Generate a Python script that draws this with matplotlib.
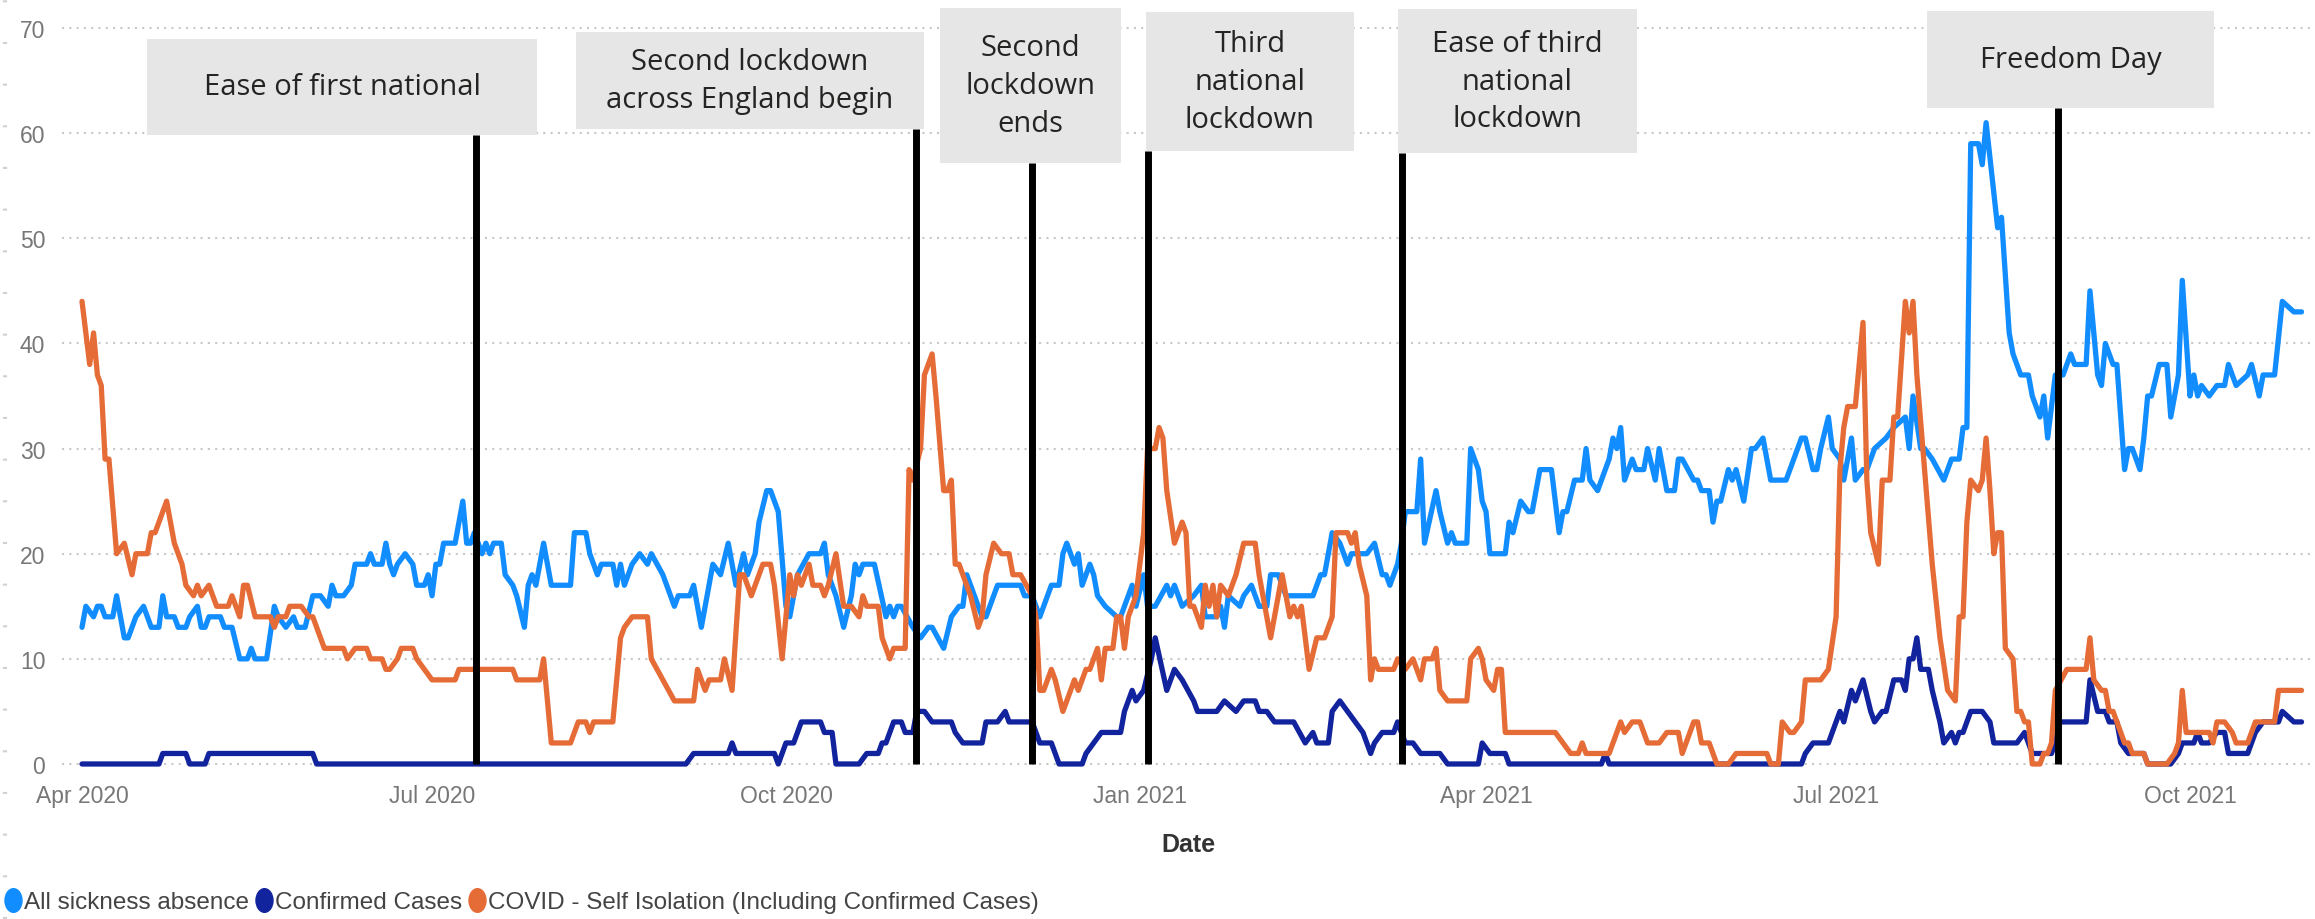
import numpy as np
import pandas as pd
import matplotlib
matplotlib.use("Agg")
import matplotlib.pyplot as plt
import matplotlib.dates as mdates
from matplotlib.lines import Line2D
from matplotlib.patches import Rectangle
from matplotlib.path import Path
from matplotlib.transforms import Affine2D

plt.rcParams['font.family'] = ['Liberation Sans', 'DejaVu Sans']

#
# Data (days counted from 1 Apr 2020)
#
start = pd.Timestamp('2020-04-01')

absence_days = [0, 1, 3, 4, 5, 6, 8, 9, 11, 12, 14, 16, 18, 20, 21, 22, 24, 25, 27, 28,
                30, 31, 32, 33, 36, 37, 39, 41, 43, 44, 45, 48, 50, 51, 53, 55, 56, 58, 60, 62,
                64, 65, 66, 68, 70, 71, 74, 75, 76, 78, 79, 80, 81, 82, 84, 86, 87, 89, 90, 91,
                92, 93, 94, 97, 99, 100, 101, 102, 104, 105, 106, 107, 109, 110, 112, 113, 115, 116, 117, 118,
                120, 122, 127, 128, 131, 132, 134, 135, 138, 139, 140, 141, 143, 145, 147, 148, 151, 152, 154, 155,
                158, 159, 161, 162, 163, 164, 166, 168, 170, 172, 173, 175, 176, 178, 179, 181, 183, 184, 186, 189,
                192, 193, 194, 196, 198, 200, 201, 202, 203, 206, 209, 210, 211, 212, 213, 216, 218, 220, 221, 224,
                226, 228, 229, 230, 231, 234, 235, 238, 244, 245, 247, 249, 251, 252, 254, 255, 256, 258, 259, 260,
                262, 263, 264, 266, 269, 270, 273, 274, 276, 277, 279, 282, 283, 284, 286, 289, 291, 292, 295, 296,
                297, 298, 301, 302, 304, 306, 308, 309, 311, 313, 320, 322, 323, 325, 327, 329, 330, 334, 336, 338,
                339, 340, 342, 343, 344, 347, 348, 349, 352, 353, 355, 356, 357, 360, 361, 363, 364, 365, 366, 370,
                371, 372, 374, 376, 377, 379, 382, 384, 385, 386, 388, 390, 391, 392, 394, 397, 398, 399, 400, 401,
                403, 404, 406, 407, 409, 410, 412, 414, 415, 416, 419, 420, 421, 423, 424, 425, 426, 428, 429, 430,
                432, 434, 435, 437, 439, 440, 443, 445, 447, 448, 450, 451, 452, 454, 455, 457, 458, 460, 461, 463,
                464, 466, 469, 471, 474, 475, 476, 478, 479, 481, 484, 486, 488, 489, 490, 491, 493, 494, 495, 498,
                499, 501, 502, 504, 506, 507, 509, 510, 511, 513, 515, 517, 518, 521, 522, 524, 525, 526, 528, 529,
                531, 532, 533, 535, 536, 537, 538, 540, 542, 543, 545, 546, 548, 549, 550, 551, 553, 555, 557, 558,
                560, 563, 564, 566, 567, 570, 572, 575, 577]
absence_vals = [13, 15, 14, 15, 15, 14, 14, 16, 12, 12, 14, 15, 13, 13, 16, 14, 14, 13, 13, 14,
                15, 13, 13, 14, 14, 13, 13, 10, 10, 11, 10, 10, 15, 14, 13, 14, 13, 13, 16, 16,
                15, 17, 16, 16, 17, 19, 19, 20, 19, 19, 21, 19, 18, 19, 20, 19, 17, 17, 18, 16,
                19, 19, 21, 21, 25, 21, 21, 22, 20, 21, 20, 21, 21, 18, 17, 16, 13, 17, 18, 17,
                21, 17, 17, 22, 22, 20, 18, 19, 19, 17, 19, 17, 19, 20, 19, 20, 18, 17, 15, 16,
                16, 17, 13, 15, 17, 19, 18, 21, 17, 20, 18, 20, 23, 26, 26, 24, 15, 14, 18, 20,
                20, 21, 18, 16, 13, 16, 19, 18, 19, 19, 14, 15, 14, 15, 15, 13, 12, 13, 13, 11,
                14, 15, 15, 18, 17, 14, 14, 17, 17, 16, 16, 14, 16, 17, 17, 20, 21, 19, 20, 17,
                19, 18, 16, 15, 14, 14, 17, 15, 18, 15, 15, 17, 16, 17, 15, 16, 17, 14, 14, 15,
                13, 16, 15, 16, 17, 15, 15, 18, 18, 16, 16, 18, 18, 22, 21, 19, 20, 20, 21, 18,
                18, 17, 19, 21, 24, 24, 29, 21, 26, 24, 21, 22, 21, 21, 30, 28, 25, 24, 20, 20,
                23, 22, 25, 24, 24, 28, 28, 22, 24, 24, 27, 27, 30, 27, 26, 29, 31, 30, 32, 27,
                29, 28, 28, 30, 27, 30, 26, 26, 29, 29, 27, 27, 26, 26, 23, 25, 25, 28, 27, 28,
                25, 30, 30, 31, 27, 27, 27, 29, 31, 31, 28, 28, 30, 33, 30, 29, 27, 31, 27, 28,
                28, 30, 31, 32, 33, 30, 35, 30, 30, 29, 27, 29, 29, 32, 32, 59, 59, 57, 61, 51,
                52, 41, 39, 37, 37, 35, 33, 35, 31, 37, 37, 39, 38, 38, 45, 37, 36, 40, 38, 38,
                28, 30, 30, 28, 31, 35, 35, 38, 38, 33, 37, 46, 35, 37, 35, 36, 35, 36, 36, 38,
                36, 37, 38, 35, 37, 37, 44, 43, 43]

confirmed_days = [0, 20, 21, 27, 28, 32, 33, 60, 61, 157, 159, 168, 169, 170, 180, 181, 183, 185, 187, 192,
                  193, 195, 196, 202, 204, 207, 208, 209, 211, 213, 214, 216, 217, 219, 221, 226, 227, 229, 234, 235,
                  238, 240, 241, 247, 249, 252, 254, 260, 261, 263, 265, 270, 271, 273, 274, 276, 278, 279, 282, 283,
                  284, 286, 289, 290, 295, 297, 300, 302, 305, 306, 308, 310, 315, 318, 320, 321, 324, 325, 327, 329,
                  331, 333, 335, 336, 338, 341, 342, 344, 346, 348, 353, 355, 363, 364, 366, 370, 371, 395, 396, 397,
                  447, 448, 450, 454, 456, 457, 458, 460, 461, 463, 465, 466, 468, 469, 471, 473, 474, 475, 476, 477,
                  478, 480, 481, 483, 484, 486, 487, 488, 489, 491, 494, 496, 497, 503, 505, 506, 507, 512, 513, 514,
                  521, 522, 524, 526, 527, 529, 530, 532, 536, 537, 543, 545, 546, 549, 550, 551, 553, 555, 557, 558,
                  563, 565, 567, 571, 572, 575, 577]
confirmed_vals = [0, 0, 1, 1, 0, 0, 1, 1, 0, 0, 1, 1, 2, 1, 1, 0, 2, 2, 4, 4,
                  3, 3, 0, 0, 1, 1, 2, 2, 4, 4, 3, 3, 5, 5, 4, 4, 3, 2, 2, 4,
                  4, 5, 4, 4, 2, 2, 0, 0, 1, 2, 3, 3, 5, 7, 6, 7, 10, 12, 7, 8,
                  9, 8, 6, 5, 5, 6, 5, 6, 6, 5, 5, 4, 4, 2, 3, 2, 2, 5, 6, 5,
                  4, 3, 1, 2, 3, 3, 4, 2, 2, 1, 1, 0, 0, 2, 1, 1, 0, 0, 1, 0,
                  0, 1, 2, 2, 4, 5, 4, 7, 6, 8, 5, 4, 5, 5, 8, 8, 7, 10, 10, 12,
                  9, 9, 7, 4, 2, 3, 2, 3, 3, 5, 5, 4, 2, 2, 3, 2, 1, 1, 2, 4,
                  4, 8, 5, 5, 4, 4, 2, 1, 1, 0, 0, 1, 2, 2, 3, 2, 2, 3, 3, 1,
                  1, 3, 4, 4, 5, 4, 4]

isolation_days = [0, 2, 3, 4, 5, 6, 7, 9, 11, 13, 14, 17, 18, 19, 22, 24, 26, 27, 29, 30,
                  31, 33, 35, 38, 39, 41, 42, 43, 45, 49, 50, 51, 53, 54, 57, 59, 60, 63, 68, 69,
                  71, 74, 75, 78, 79, 80, 82, 83, 86, 87, 89, 91, 97, 98, 112, 113, 119, 120, 122, 127,
                  129, 131, 132, 133, 138, 140, 141, 143, 147, 148, 151, 154, 159, 160, 162, 163, 166, 167, 169, 171,
                  172, 174, 177, 179, 180, 182, 184, 185, 186, 187, 189, 190, 192, 193, 194, 196, 198, 200, 202, 203,
                  204, 207, 208, 210, 211, 214, 215, 216, 218, 219, 221, 222, 224, 225, 226, 227, 228, 229, 231, 233,
                  234, 235, 237, 239, 241, 242, 244, 247, 248, 249, 250, 252, 253, 255, 256, 258, 259, 261, 262, 264,
                  265, 266, 268, 269, 270, 271, 272, 273, 274, 276, 277, 279, 280, 281, 282, 284, 286, 287, 288, 289,
                  291, 292, 293, 294, 295, 296, 298, 299, 300, 302, 305, 306, 308, 309, 311, 312, 314, 315, 316, 317,
                  319, 321, 323, 325, 326, 329, 330, 331, 332, 334, 335, 336, 337, 341, 342, 344, 346, 348, 349, 351,
                  352, 353, 355, 360, 361, 363, 364, 365, 367, 368, 369, 370, 383, 385, 387, 389, 390, 391, 397, 398,
                  400, 401, 403, 405, 407, 410, 412, 415, 416, 417, 419, 420, 421, 423, 425, 428, 430, 438, 439, 441,
                  442, 444, 445, 447, 448, 452, 454, 456, 457, 458, 459, 461, 463, 464, 465, 467, 468, 470, 471, 472,
                  474, 475, 476, 477, 479, 481, 483, 485, 487, 488, 489, 490, 491, 493, 494, 495, 496, 497, 498, 499,
                  500, 502, 503, 504, 505, 506, 507, 509, 510, 511, 512, 513, 516, 521, 522, 523, 525, 526, 527, 528,
                  529, 531, 532, 533, 536, 537, 542, 544, 545, 546, 547, 553, 554, 555, 557, 559, 560, 563, 565, 570,
                  571, 577]
isolation_vals = [44, 38, 41, 37, 36, 29, 29, 20, 21, 18, 20, 20, 22, 22, 25, 21, 19, 17, 16, 17,
                  16, 17, 15, 15, 16, 14, 17, 17, 14, 14, 13, 14, 14, 15, 15, 14, 14, 11, 11, 10,
                  11, 11, 10, 10, 9, 9, 10, 11, 11, 10, 9, 8, 8, 9, 9, 8, 8, 10, 2, 2,
                  4, 4, 3, 4, 4, 12, 13, 14, 14, 10, 8, 6, 6, 9, 7, 8, 8, 10, 7, 18,
                  18, 16, 19, 19, 17, 10, 18, 16, 18, 17, 19, 17, 17, 16, 17, 20, 15, 15, 14, 16,
                  15, 15, 12, 10, 11, 11, 28, 27, 30, 37, 39, 35, 26, 26, 27, 19, 19, 18, 16, 13,
                  14, 18, 21, 20, 20, 18, 18, 16, 14, 7, 7, 9, 8, 5, 6, 8, 7, 9, 9, 11,
                  8, 11, 11, 14, 14, 11, 14, 15, 16, 22, 30, 30, 32, 31, 26, 21, 23, 22, 15, 15,
                  13, 17, 15, 17, 14, 17, 16, 17, 18, 21, 21, 18, 14, 12, 16, 18, 14, 15, 14, 15,
                  9, 12, 12, 14, 22, 22, 21, 22, 19, 16, 8, 10, 9, 9, 10, 9, 10, 8, 10, 10,
                  11, 7, 6, 6, 10, 11, 10, 8, 7, 9, 9, 3, 3, 2, 1, 1, 2, 1, 1, 2,
                  4, 3, 4, 4, 2, 2, 3, 3, 1, 2, 4, 4, 2, 2, 0, 0, 1, 1, 0, 0,
                  4, 3, 3, 4, 8, 8, 9, 14, 28, 32, 34, 34, 42, 27, 22, 19, 27, 27, 33, 33,
                  44, 41, 44, 37, 28, 19, 12, 7, 6, 14, 14, 23, 27, 26, 27, 31, 26, 20, 22, 22,
                  11, 10, 5, 5, 4, 4, 0, 0, 1, 1, 2, 7, 9, 9, 12, 8, 7, 7, 5, 5,
                  4, 2, 2, 1, 1, 0, 0, 1, 2, 7, 3, 3, 2, 4, 4, 3, 2, 2, 4, 4,
                  7, 7]

series_names = ['All sickness absence', 'Confirmed Cases',
                'COVID - Self Isolation (Including Confirmed Cases)']

event_days = [102.3, 216.9, 247.0, 277.1, 343.1, 513.8]
event_labels = ['Ease of first national',
                'Second lockdown\nacross England begin',
                'Second\nlockdown\nends',
                'Third\nnational\nlockdown',
                'Ease of third\nnational\nlockdown',
                'Freedom Day']

#
# Style / layout
#
colores = ['#118DFF', '#12239E', '#E66C37']
# label boxes: (left day, right day, bottom value, top value)
box_geom = [(16.9, 118.4, 59.8, 69.0), (128.3, 219.0, 60.4, 69.6),
            (223.1, 270.1, 57.2, 71.9), (276.6, 330.6, 58.3, 71.5),
            (342.1, 404.2, 58.1, 71.8), (479.7, 554.3, 62.4, 71.6)]


def to_num(days):
    return mdates.date2num(start + pd.to_timedelta(np.asarray(days, float), unit='D'))


W, H = 2315, 920
fig = plt.figure(figsize=(W / 100, H / 100), dpi=100)
ax = fig.add_axes([62 / W, 1 - 775.5 / H, 1 - 62 / W, (775.5 - 18.5) / H])

series = [(absence_days, absence_vals), (confirmed_days, confirmed_vals),
          (isolation_days, isolation_vals)]
for n, (d, v) in enumerate(series):
    assert len(d) == len(v)
    ax.plot(to_num(d), v, color=colores[n], lw=3.8, solid_joinstyle='round',
            solid_capstyle='round', zorder=2 + n)

# events: black line + grey label box
for n, day in enumerate(event_days):
    x0, x1, y0, y1 = box_geom[n]
    ax.vlines(to_num([day]), 0, y0, color='black', lw=5, zorder=6)
    left, right = to_num([x0, x1])
    ax.add_patch(Rectangle((left, y0), right - left, y1 - y0, facecolor='#E6E6E6',
                           edgecolor='none', clip_on=False, zorder=7))
    ax.text((left + right) / 2, (y0 + y1) / 2, event_labels[n], ha='center', va='center',
            fontsize=21, color='#252423', linespacing=1.4, zorder=8,
            family=['Open Sans', 'DejaVu Sans'])

ax.set_xlim(to_num([-5.2, 580.5]))
ax.set_ylim(-1, 71)
ax.set_yticks(range(0, 71, 10))
ax.xaxis.set_major_locator(mdates.MonthLocator(bymonth=[1, 4, 7, 10]))
ax.xaxis.set_major_formatter(mdates.DateFormatter('%b %Y'))
ax.grid(axis='y', color='#C8C8C8', linestyle=(0, (1, 2.5)), lw=1.5)
ax.grid(axis='x', visible=False)
ax.set_axisbelow(True)
for s in ax.spines.values():
    s.set_visible(False)
ax.tick_params(axis='both', length=0, labelsize=16.5, labelcolor='#777777')
ax.tick_params(axis='x', pad=7)
ax.tick_params(axis='y', pad=12)

fig.text(1188 / W, 1 - 845 / H, 'Date', ha='center', va='center', fontsize=18,
         fontweight='bold', color='#333333')

# legend with tall round markers
oval = Path.unit_circle().transformed(Affine2D().scale(0.72, 1.0))
handles = [Line2D([], [], ls='', marker=oval, markersize=17, color=c) for c in colores]
fig.legend(handles, series_names, loc='center left', bbox_to_anchor=(6 / W, 1 - 903 / H),
           ncol=3, frameon=False, fontsize=17.5, handlelength=0.6, handletextpad=0.12,
           columnspacing=0.35, borderpad=0, borderaxespad=0, labelcolor='#444444')

# faint dotted rule at the left edge of the page
fig.add_artist(Line2D([5 / W, 5 / W], [0, 1], transform=fig.transFigure, color='#D0D0D0',
                      lw=3, linestyle=(0, (0.5, 9.5))))

plt.savefig('out.png', dpi=100)
